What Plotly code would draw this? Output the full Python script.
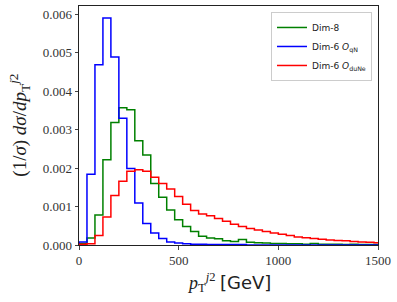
import plotly.graph_objects as go

# ---- data ----
bin_width = 40  # GeV
bin_lower_edges = list(range(0, 1520, 40))  # 38 bins: 0..1520 GeV

dim8 = [0.00004, 0.00018, 0.00078, 0.00222, 0.00319, 0.00357, 0.00352, 0.00271,
        0.00234, 0.00160, 0.00124, 0.00091, 0.00066, 0.00048, 0.00035, 0.00023,
        0.00018, 0.00016, 0.00011, 0.00009, 0.00014, 0.00007, 0.00006, 0.00005,
        0.00004, 0.00004, 0.00003, 0.00003, 0.00002, 0.00004, 0.00002, 0.00002,
        0.00002, 0.00001, 0.00002, 0.00001, 0.00001, 0.00001]

dim6_qN = [0.00008, 0.00184, 0.00469, 0.00591, 0.00489, 0.00330, 0.00199, 0.00109,
           0.00056, 0.00031, 0.00017, 0.00008, 0.00005, 0.00003, 0.00002, 0.00002,
           0.00001, 0.00001, 0.00001, 0.00001, 0.00001, 0.0, 0.0, 0.0,
           0.0, 0.0, 0.0, 0.0, 0.0, 0.0, 0.0, 0.0,
           0.0, 0.0, 0.0, 0.0, 0.0, 0.0]

dim6_duNe = [0.00002, 0.00003, 0.00025, 0.00073, 0.00129, 0.00166, 0.00192, 0.00196,
             0.00192, 0.00176, 0.00160, 0.00146, 0.00126, 0.00106, 0.00090, 0.00081,
             0.00076, 0.00069, 0.00062, 0.00054, 0.00048, 0.00043, 0.00039, 0.00035,
             0.00031, 0.00028, 0.00025, 0.00021, 0.00019, 0.00017, 0.00015, 0.00013,
             0.00012, 0.00011, 0.00009, 0.00008, 0.00007, 0.00006]

series_names = ["Dim-8", "Dim-6 <i>O</i><sub>qN</sub>", "Dim-6 <i>O</i><sub>duNe</sub>"]
series_values = [dim8, dim6_qN, dim6_duNe]
series_colors = ["#008000", "#0000ff", "#ff0000"]

x_tick_vals = [0, 500, 1000, 1500]
y_tick_vals = [0.000, 0.001, 0.002, 0.003, 0.004, 0.005, 0.006]

x_title = ("<i>p</i><sub>T</sub><sup><i>j</i>2</sup> "
           "<span style=\"font-family:'DejaVu Sans'\">[GeV]</span>")
y_title = "(1/<i>σ</i>) <i>dσ</i>/<i>dp</i><sub>T</sub><sup><i>j</i>2</sup>"


def step_xy(edges, vals, width):
    xs = [edges[0]] + list(edges) + [edges[-1] + width, edges[-1] + width]
    ys = [0] + list(vals) + [vals[-1], 0]
    return xs, ys


fig = go.Figure()
for name, vals, col in zip(series_names, series_values, series_colors):
    xs, ys = step_xy(bin_lower_edges, vals, bin_width)
    fig.add_trace(go.Scatter(x=xs, y=ys, mode="lines", name=name,
                             line=dict(color=col, width=1.5, shape="hv")))

serif = "Liberation Serif, DejaVu Serif, serif"
fig.update_layout(
    width=397, height=302,
    margin=dict(l=79, r=19, t=6, b=57, autoexpand=False),
    plot_bgcolor="white", paper_bgcolor="white",
    font=dict(family=serif, size=13, color="#333"),
    showlegend=True,
    legend=dict(x=0.98, y=0.975, xanchor="right", yanchor="top",
                bgcolor="white", bordercolor="#cccccc", borderwidth=1,
                font=dict(family="DejaVu Sans, sans-serif", size=9, color="#222"),
                itemwidth=30, tracegroupgap=0),
    xaxis=dict(range=[0, 1500], tickvals=x_tick_vals, ticks="outside", ticklen=3.5,
               showline=True, linecolor="#222", linewidth=1, mirror=True,
               showgrid=False, zeroline=False, automargin=False),
    yaxis=dict(range=[0, 0.00622], tickvals=y_tick_vals, tickformat=".3f",
               ticks="outside", ticklen=3.5,
               showline=True, linecolor="#222", linewidth=1, mirror=True,
               showgrid=False, zeroline=False, automargin=False),
    annotations=[
        dict(text=x_title, xref="paper", yref="paper", x=0.5, y=-0.095,
             xanchor="center", yanchor="top", showarrow=False,
             font=dict(family=serif, size=18, color="#222")),
        dict(text=y_title, xref="paper", yref="paper", x=-0.2, y=0.5,
             xanchor="center", yanchor="middle", showarrow=False, textangle=-90,
             font=dict(family=serif, size=19, color="#222")),
    ],
)

fig.write_html("out.html",
               config={"displayModeBar": False},
               post_script="document.body.style.margin='0';"
                           "document.body.style.padding='0';")
